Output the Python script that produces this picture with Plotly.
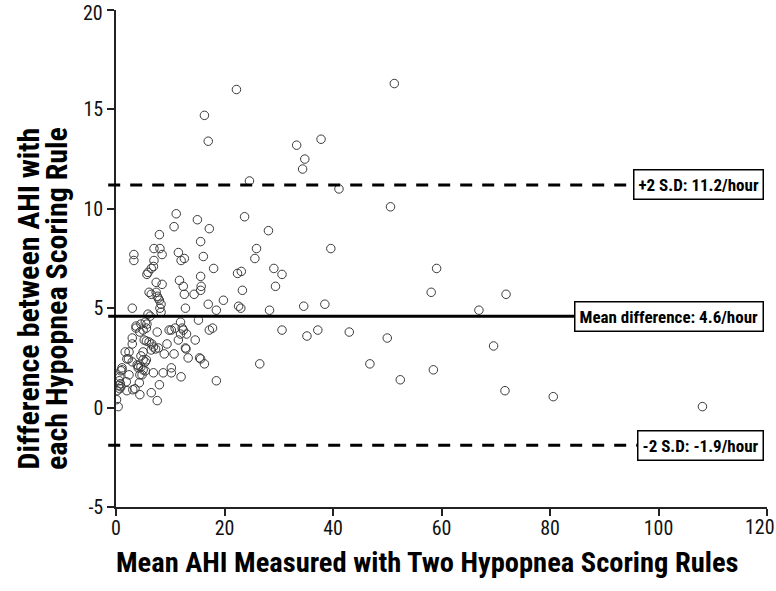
import plotly.graph_objects as go

# Mean AHI (x) and difference (y)
mean_ahi = [
    22.2, 16.3, 17.0, 51.3, 33.3, 34.8, 34.4, 37.8, 24.6, 41.1, 50.6, 59.1, 58.1, 71.9, 66.9, 43.0,
    50.0, 69.6, 46.8, 58.5, 52.4, 71.7, 80.6, 108.1,
    23.7, 28.1, 25.9, 39.6, 25.6, 29.1, 30.6, 22.4, 23.1, 23.3, 29.4, 22.6, 23.0, 28.3, 34.6, 38.5,
    30.6, 37.2, 35.2, 26.5, 18.5, 17.2, 17.8, 14.6, 15.4, 15.6, 16.3, 12.8, 12.9, 13.3, 12.0, 10.2,
    10.2, 8.7, 8.0, 7.6, 6.5, 6.9, 10.7, 8.9, 9.4, 11.5, 11.9, 13.0, 10.2, 7.6, 5.6, 3.7, 3.0, 3.0,
    5.2, 5.6, 6.1, 6.6, 6.9, 7.3, 7.8, 6.5, 5.0, 4.6, 5.0, 5.6, 1.7, 2.4, 2.0, 2.3, 3.0, 3.9, 4.1,
    4.6, 5.0, 5.4, 4.8, 4.4, 4.3, 3.5, 3.1, 2.0, 4.4, 1.1, 1.1, 0.9, 2.4, 0.7, 1.9, 0.6, 0.8, 0.5,
    0.9, 0.7, 0.2, 0.1, 0.4,
    12.6, 12.0, 16.1, 18.0, 15.6, 11.7, 12.4, 15.7, 15.6, 14.4, 12.6, 19.8, 17.0, 18.5, 12.8, 11.9,
    12.2, 15.2,
    3.3, 3.3, 7.0, 6.9, 6.5, 5.9, 5.7, 7.4, 8.5, 6.1, 6.5, 7.4, 7.6, 7.8, 8.0, 8.3, 8.1, 8.3, 3.0,
    5.4, 5.7, 4.6, 3.7, 5.0, 9.8, 10.9,
    11.1, 10.7, 8.0, 7.0, 8.1, 8.5, 11.5, 15.0, 17.2, 15.6,
    5.9, 6.3, 4.4, 5.4, 4.1, 12.4,
]
diff_ahi = [
    16.0, 14.7, 13.4, 16.3, 13.2, 12.5, 12.0, 13.5, 11.4, 11.0, 10.1, 7.0, 5.8, 5.7, 4.9, 3.8,
    3.5, 3.1, 2.2, 1.9, 1.4, 0.85, 0.55, 0.05,
    9.6, 8.9, 8.0, 8.0, 7.5, 7.0, 6.7, 6.75, 6.85, 5.9, 6.1, 5.1, 5.0, 4.9, 5.1, 5.2,
    3.9, 3.9, 3.6, 2.2, 1.35, 3.9, 4.0, 3.4, 2.5, 2.45, 2.2, 3.0, 2.95, 2.5, 1.55, 2.0,
    1.75, 1.75, 1.15, 0.35, 0.75, 1.75, 2.7, 2.7, 3.2, 3.4, 3.7, 3.7, 3.9, 3.8, 4.0, 4.0, 3.5, 3.2,
    3.4, 3.35, 3.3, 3.2, 3.05, 2.95, 3.0, 2.9, 2.8, 2.6, 2.4, 2.4, 2.8, 2.8, 2.45, 2.45, 2.3, 2.15, 2.1,
    2.05, 1.9, 1.85, 1.65, 1.65, 1.25, 0.95, 0.9, 0.85, 0.65, 2.0, 1.9, 1.85, 1.65, 1.55, 1.3, 1.35, 1.2, 1.1,
    1.05, 0.95, 0.85, 0.4, 0.05,
    7.5, 7.4, 7.6, 7.0, 6.6, 6.4, 6.1, 6.1, 5.9, 5.7, 5.7, 5.4, 5.2, 4.9, 5.0, 4.3,
    4.0, 4.4,
    7.7, 7.4, 7.4, 7.1, 7.0, 6.8, 6.7, 6.3, 6.2, 5.8, 5.7, 5.8, 5.6, 5.5, 5.4, 5.2, 5.0, 4.8, 5.0,
    4.3, 4.2, 4.2, 4.1, 3.9, 3.9, 4.0,
    9.75, 9.1, 8.7, 8.0, 8.0, 7.7, 7.8, 9.45, 9.0, 8.35,
    4.7, 4.6, 3.8, 2.3, 2.0, 3.9,
]

mean_diff = 4.6
upper_loa = 11.2
lower_loa = -1.9
line_labels = ["+2 S.D: 11.2/hour", "Mean difference: 4.6/hour", "-2 S.D: -1.9/hour"]

x_ticks = [0, 20, 40, 60, 80, 100, 120]
y_ticks = [-5, 0, 5, 10, 15, 20]
x_min, x_max = 0, 120
y_min, y_max = -5, 20
x_title = "Mean AHI Measured with Two Hypopnea Scoring Rules"
y_title_lines = ["Difference between AHI with", "each Hypopnea Scoring Rule"]

font_fam = "Roboto Condensed, Liberation Sans Narrow, DejaVu Sans Condensed, sans-serif"
tick_font = dict(family=font_fam, size=20, color="#111111")

fig = go.Figure()
fig.add_trace(go.Scatter(
    x=mean_ahi, y=diff_ahi, mode="markers",
    marker=dict(symbol="circle-open", size=8.5, color="#3a3a3a", line=dict(width=1)),
    showlegend=False, hoverinfo="x+y",
))

def to_paper(v):
    return (v - y_min) / (y_max - y_min)

for val, dash, label in [(upper_loa, "12px,10px", line_labels[0]),
                         (mean_diff, "solid", line_labels[1]),
                         (lower_loa, "12px,10px", line_labels[2])]:
    yp = to_paper(val)
    fig.add_shape(type="line", xref="paper", yref="paper", x0=-0.012, x1=0.99,
                  y0=yp, y1=yp, line=dict(color="black", width=3, dash=dash))
    fig.add_annotation(xref="paper", yref="y", x=0.996, y=val, text="<b>" + label + "</b>",
                       showarrow=False, xanchor="right", yanchor="middle",
                       font=dict(family=font_fam, size=17, color="black"),
                       bgcolor="white", bordercolor="black", borderwidth=1.5, borderpad=4)

# axis titles
fig.add_annotation(xref="paper", yref="paper", x=0.478, y=-0.112, text="<b>" + x_title + "</b>",
                   showarrow=False, xanchor="center", yanchor="middle",
                   font=dict(family=font_fam, size=28.5, color="black"))
for xp, line in zip([-0.135, -0.091], y_title_lines):
    fig.add_annotation(xref="paper", yref="paper", x=xp, y=0.42, text="<b>" + line + "</b>",
                       showarrow=False, xanchor="center", yanchor="middle", textangle=-90,
                       font=dict(family=font_fam, size=30, color="black"))

# edge tick labels drawn so they stay inside the page
x_ticktext = [str(v) for v in x_ticks]
y_ticktext = [str(v) for v in y_ticks]
fig.add_annotation(xref="paper", yref="paper", x=1.0138, y=-0.0402, text=x_ticktext[-1],
                   showarrow=False, xanchor="right", yanchor="middle", font=tick_font, borderpad=0)
fig.add_annotation(xref="paper", yref="paper", x=-0.0184, y=1.0201, text=y_ticktext[-1],
                   showarrow=False, xanchor="right", yanchor="top", font=tick_font, borderpad=0)
x_ticktext[-1] = ""
y_ticktext[-1] = ""

axis_common = dict(showgrid=False, zeroline=False, showline=True, linecolor="#222222",
                   linewidth=1.5, ticks="outside", ticklen=7, tickwidth=1.5, tickcolor="#222222",
                   tickfont=tick_font, ticklabeloverflow="allow", automargin=False)

fig.update_layout(
    width=776, height=591,
    margin=dict(l=116, r=9, t=10, b=84, autoexpand=False),
    plot_bgcolor="white", paper_bgcolor="white",
    font=dict(family=font_fam, color="black"),
    xaxis=dict(range=[x_min, x_max], tickvals=x_ticks, ticktext=x_ticktext,
               ticklabelstandoff=-5, **axis_common),
    yaxis=dict(range=[y_min, y_max], tickvals=y_ticks, ticktext=y_ticktext, **axis_common),
)

fig.write_html("out.html", config={"displayModeBar": False},
               post_script="document.body.style.margin='0';")
